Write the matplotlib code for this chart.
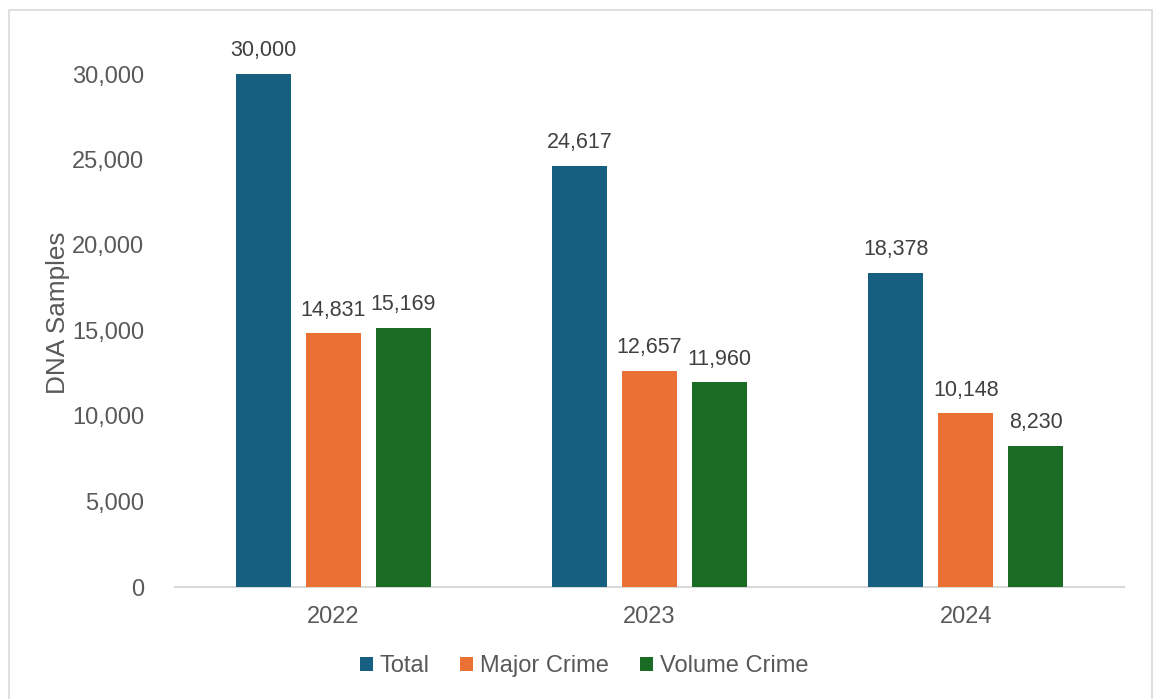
import matplotlib.pyplot as plt
from matplotlib.patches import Rectangle
from matplotlib.ticker import FuncFormatter

years = ["2022", "2023", "2024"]
total = [30000, 24617, 18378]
major_crime = [14831, 12657, 10148]
volume_crime = [15169, 11960, 8230]

series_names = ["Total", "Major Crime", "Volume Crime"]
series_colors = ["#175F80", "#EA7133", "#1A6B24"]
text_color = "#595959"


def main():
    plt.rcParams["font.family"] = ["Liberation Sans", "DejaVu Sans"]

    W, H = 1155, 699
    fig = plt.figure(figsize=(W / 100, H / 100), dpi=100)

    # outer chart border
    fig.patches.append(Rectangle((8.5 / W, -0.01), (1152 - 8.5) / W, 1 - 9.5 / H + 0.01,
                                 transform=fig.transFigure, fill=False,
                                 edgecolor="#D9D9D9", linewidth=1.2))

    left, right = 175, 1124
    top, bottom = 74, 587
    ax = fig.add_axes([left / W, 1 - bottom / H, (right - left) / W, (bottom - top) / H])

    width = 0.174
    pitch = 0.2215
    xs = range(len(years))
    for i, (vals, name, color) in enumerate(zip([total, major_crime, volume_crime],
                                                 series_names, series_colors)):
        pos = [x + (i - 1) * pitch for x in xs]
        bars = ax.bar(pos, vals, width=width, color=color, label=name, zorder=3)
        for b, v in zip(bars, vals):
            ax.text(b.get_x() + b.get_width() / 2, v + 750, f"{v:,}",
                    ha="center", va="bottom", fontsize=15.5, color="#404040",
                    clip_on=False)

    ax.set_xlim(-0.5, 2.5)
    ax.set_ylim(0, 30000)
    ax.set_yticks(range(0, 30001, 5000))
    ax.yaxis.set_major_formatter(FuncFormatter(lambda v, p: f"{int(v):,}"))
    ax.set_xticks(list(xs))
    ax.set_xticklabels(years)

    for s in ["top", "right", "left"]:
        ax.spines[s].set_visible(False)
    ax.spines["bottom"].set_color("#D9D9D9")
    ax.spines["bottom"].set_linewidth(1.5)
    ax.tick_params(axis="both", length=0, labelsize=17, colors=text_color)
    ax.tick_params(axis="y", pad=22)
    ax.tick_params(axis="x", pad=14)

    fig.text(58 / W, 1 - 313 / H, "DNA Samples", rotation=90, ha="center",
             va="center", fontsize=18.8, color=text_color)

    # legend sits a little left of the plot centre
    ax.legend(loc="center",
              bbox_to_anchor=((584 - left) / (right - left), 1 - (666 - top) / (bottom - top)),
              ncol=3, frameon=False, fontsize=17, labelcolor=text_color,
              handlelength=0.55, handleheight=0.55, handletextpad=0.3,
              columnspacing=1.3)

    fig.savefig("out.png", dpi=100, facecolor="white")


if __name__ == "__main__":
    main()
